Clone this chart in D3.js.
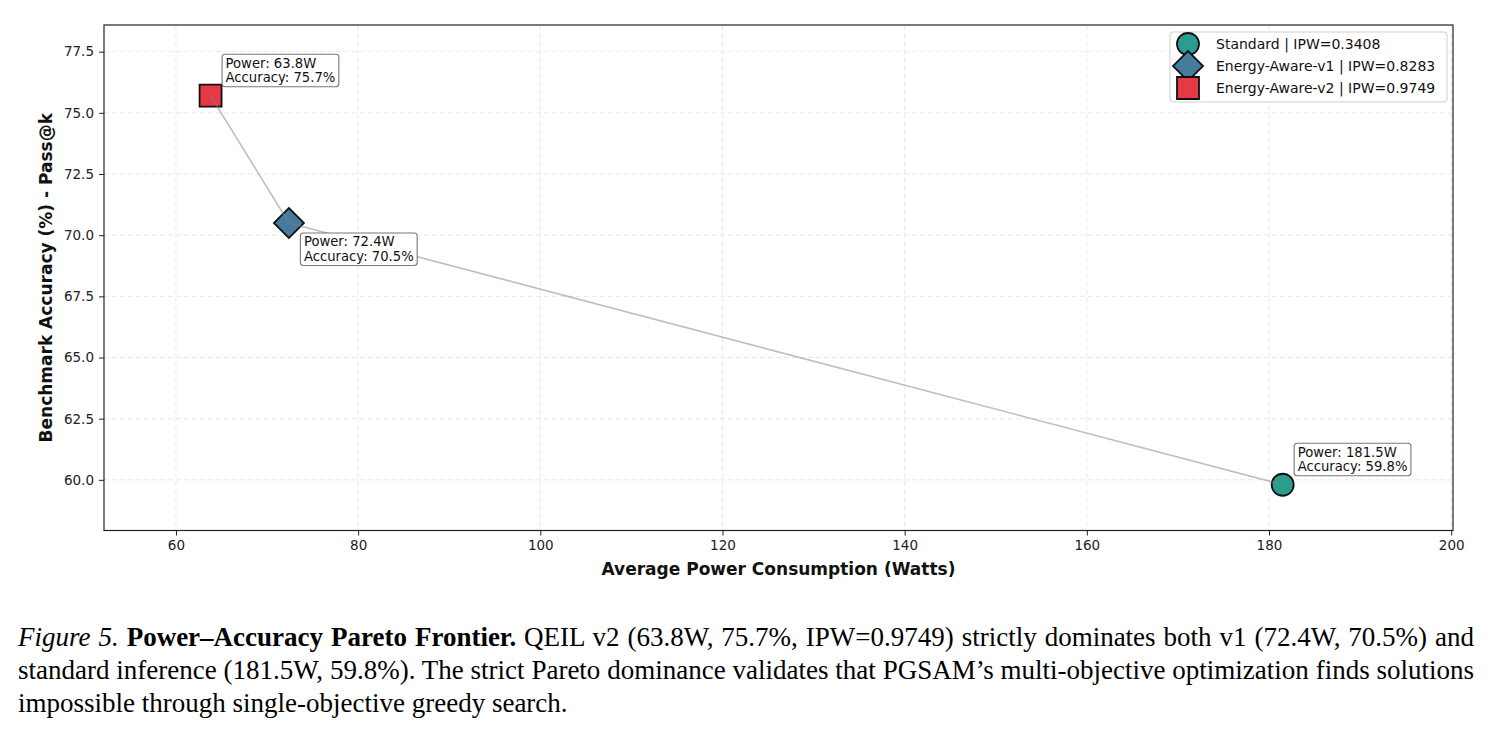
<!DOCTYPE html>
<html><head><meta charset="utf-8">
<script src="https://cdn.jsdelivr.net/npm/d3@7"></script>
<style>body{margin:0;background:#fff;} svg{display:block;}</style>
</head><body>
<svg id="chart" width="1491" height="735"></svg>
<script>
// ---- data ----
const configs = ["Standard", "Energy-Aware-v1", "Energy-Aware-v2"];
const power = [181.5, 72.4, 63.8];
const accuracy = [59.8, 70.5, 75.7];
const ipw = [0.3408, 0.8283, 0.9749];
const colors = ["#2a9d8f", "#457b9d", "#e63946"];
const shapes = ["circle", "diamond", "square"];
const xTicks = [60, 80, 100, 120, 140, 160, 180, 200];
const yTicks = [60, 62.5, 65, 67.5, 70, 72.5, 75, 77.5];
const xDomain = [52.1, 200.2];
const yDomain = [57.93, 78.59];
const xLabel = "Average Power Consumption (Watts)";
const yLabel = "Benchmark Accuracy (%) - Pass@k";
const annotBelow = [false, true, false];
const captionLines = [
  [["Figure 5.", "italic"], [" ", "normal"], ["Power–Accuracy Pareto Frontier.", "bold"],
   [" QEIL v2 (63.8W, 75.7%, IPW=0.9749) strictly dominates both v1 (72.4W, 70.5%) and", "normal"]],
  [["standard inference (181.5W, 59.8%). The strict Pareto dominance validates that PGSAM’s multi-objective optimization finds solutions", "normal"]],
  [["impossible through single-objective greedy search.", "normal"]]
];

// ---- layout ----
const L = 104, R = 1453, T = 25, B = 530.5;
const svg = d3.select("#chart");
svg.append("rect").attr("width", 1491).attr("height", 735).attr("fill", "#fff");

const x = d3.scaleLinear().domain(xDomain).range([L, R]);
const y = d3.scaleLinear().domain(yDomain).range([B, T]);

// grid
const grid = svg.append("g");
grid.selectAll(".gx").data(xTicks).join("line")
  .attr("x1", d => x(d)).attr("x2", d => x(d)).attr("y1", T).attr("y2", B)
  .attr("stroke", "#e6e6e6").attr("stroke-width", 0.9).attr("stroke-dasharray", "5,3");
grid.selectAll(".gy").data(yTicks).join("line")
  .attr("x1", L).attr("x2", R).attr("y1", d => y(d)).attr("y2", d => y(d))
  .attr("stroke", "#e6e6e6").attr("stroke-width", 0.9).attr("stroke-dasharray", "5,3");

// axes
const xAxis = d3.axisBottom(x).tickValues(xTicks).tickFormat(d3.format("d")).tickSizeOuter(0).tickSize(5).tickPadding(5);
const yAxis = d3.axisLeft(y).tickValues(yTicks).tickFormat(d3.format(".1f")).tickSizeOuter(0).tickSize(5).tickPadding(5);
const gx = svg.append("g").attr("transform", `translate(0,${B})`).call(xAxis);
const gy = svg.append("g").attr("transform", `translate(${L},0)`).call(yAxis);
[gx, gy].forEach(g => {
  g.select(".domain").remove();
  g.selectAll(".tick line").attr("stroke", "#222").attr("stroke-width", 1);
  g.selectAll(".tick text").attr("fill", "#222").attr("font-family", "DejaVu Sans").attr("font-size", 13.5);
});

// frame
svg.append("rect").attr("x", L).attr("y", T).attr("width", R - L).attr("height", B - T)
  .attr("fill", "none").attr("stroke", "#222").attr("stroke-width", 1.2);

// axis labels
svg.append("text").attr("x", (L + R) / 2).attr("y", 575).attr("text-anchor", "middle")
  .attr("font-family", "DejaVu Sans").attr("font-weight", "bold").attr("font-size", 17).attr("fill", "#111")
  .text(xLabel);
svg.append("text").attr("transform", `translate(52,${(T + B) / 2}) rotate(-90)`).attr("text-anchor", "middle")
  .attr("font-family", "DejaVu Sans").attr("font-weight", "bold").attr("font-size", 17).attr("fill", "#111")
  .text(yLabel);

// markers
function symbolPath(shape) {
  if (shape === "circle") return d3.symbol(d3.symbolCircle, Math.PI * 11 * 11)();
  if (shape === "square") return d3.symbol(d3.symbolSquare, 22 * 22)();
  return d3.symbol(d3.symbolSquare, 450)();
}
function symbolRot(shape) { return shape === "diamond" ? " rotate(45)" : ""; }

const idx = configs.map((c, i) => i);
svg.append("g").selectAll("path").data(idx).join("path")
  .attr("d", i => symbolPath(shapes[i]))
  .attr("transform", i => `translate(${x(power[i])},${y(accuracy[i])})${symbolRot(shapes[i])}`)
  .attr("fill", i => colors[i]).attr("stroke", "#111").attr("stroke-width", 1.8);

// frontier line (sorted by power)
const order = idx.slice().sort((a, b) => power[a] - power[b]);
svg.append("path").datum(order)
  .attr("d", d3.line().x(i => x(power[i])).y(i => y(accuracy[i])))
  .attr("fill", "none").attr("stroke", "#808080").attr("stroke-opacity", 0.5).attr("stroke-width", 1.6);

// annotations
idx.forEach(i => {
  const px = x(power[i]), py = y(accuracy[i]);
  const g = svg.append("g");
  const rect = g.append("rect");
  const t = g.append("text").attr("font-family", "DejaVu Sans").attr("font-size", 13.2).attr("fill", "#111");
  t.append("tspan").attr("x", 0).attr("y", 0).text(`Power: ${power[i].toFixed(1)}W`);
  t.append("tspan").attr("x", 0).attr("dy", 14.5).text(`Accuracy: ${accuracy[i].toFixed(1)}%`);
  const bb = t.node().getBBox();
  const padX = 3.5, padY = 1.5;
  rect.attr("x", bb.x - padX).attr("y", bb.y - padY)
    .attr("width", bb.width + 2 * padX).attr("height", bb.height + 2 * padY)
    .attr("rx", 3).attr("fill", "#fff").attr("stroke", "#777").attr("stroke-width", 1.1);
  const tx = px + 11.5 - (bb.x - padX);
  const ty = annotBelow[i] ? (py + 10) - (bb.y - padY) : (py - 9) - (bb.y + bb.height + padY);
  g.attr("transform", `translate(${tx},${ty})`);
});

// legend
const lg = svg.append("g");
lg.append("rect").attr("x", 1170).attr("y", 32).attr("width", 277).attr("height", 70).attr("rx", 3)
  .attr("fill", "#fff").attr("fill-opacity", 0.85).attr("stroke", "#cfcfcf").attr("stroke-width", 1);
idx.forEach(i => {
  const ry = 44 + i * 22;
  lg.append("path").attr("d", symbolPath(shapes[i]))
    .attr("transform", `translate(1188,${ry})${symbolRot(shapes[i])}`)
    .attr("fill", colors[i]).attr("stroke", "#111").attr("stroke-width", 1.8);
  lg.append("text").attr("x", 1216).attr("y", ry + 5)
    .attr("font-family", "DejaVu Sans").attr("font-size", 14).attr("fill", "#111")
    .text(`${configs[i]} | IPW=${ipw[i].toFixed(4)}`);
});

// caption
const capLeft = 18, capRight = 1474, capSize = 27;
const baselines = [646, 679, 712];
captionLines.forEach((segs, li) => {
  const t = svg.append("text").attr("x", capLeft).attr("y", baselines[li])
    .attr("font-family", "Liberation Serif").attr("font-size", capSize).attr("fill", "#000")
    .style("white-space", "pre");
  segs.forEach(([txt, st]) => {
    const ts = t.append("tspan").text(txt);
    if (st === "italic") ts.attr("font-style", "italic");
    if (st === "bold") ts.attr("font-weight", "bold");
  });
  if (li < captionLines.length - 1) {
    const natural = t.node().getComputedTextLength();
    const full = segs.map(s => s[0]).join("");
    const nSpaces = (full.match(/ /g) || []).length;
    const extra = (capRight - capLeft - natural) / nSpaces;
    t.style("word-spacing", extra + "px");
  }
});
</script>
</body></html>
